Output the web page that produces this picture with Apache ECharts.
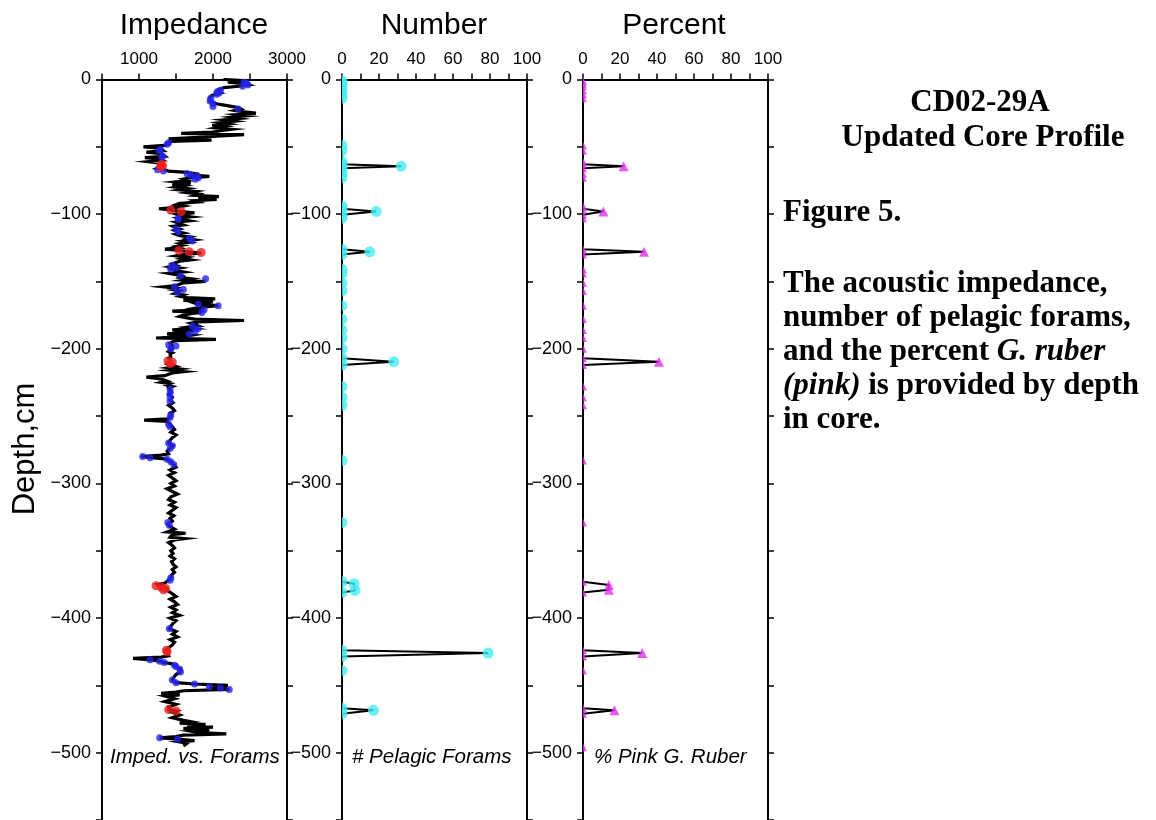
<!DOCTYPE html>
<html>
<head>
<meta charset="utf-8">
<script src="https://cdn.jsdelivr.net/npm/echarts@6/dist/echarts.min.js"></script>
<style>
html,body{margin:0;padding:0;background:#fff;}
#chart{width:1156px;height:820px;}
</style>
</head>
<body>
<div id="chart"></div>
<script>
// ---------- DATA ----------
const impDepth = [0,-1,-2,-3,-4,-5,-6,-7,-8,-9,-10,-11,-12,-13,-14,-15,-16,-17,-18,-19,-20,-21,-22,-23,-24,-25,-26,-27,-28,-29,-30,-31,-32,-33,-34,-35,-36,-37,-38,-39,-40,-41,-42,-43,-44,-45,-46,
-47,-48,-49,-50,-51,-52,-53,-54,-55,-56,-57,-58,-59,-60,-61,-62,-63,-64,-65,-66,-67,-68,-69,-70,
-71,-72,-73,-74,-75,-76,-77,-78,-79,-80,-81,-82,-83,-84,-85,-86,-87,-88,-89,-90,-91,-92,-93,-94,-95,-96,
-97,-98,-99,-100,-101,-102,-103,-104,-105,-106,-107,-108,-109,-110,-111,-112,-113,-114,-115,-116,-117,-118,-119,-120,-121,-122,-123,-124,-125,-126,-127,-128,-129,-130,
-131,-132,-133,-134,-135,-136,-137,-138,-139,-140,-141,-142,-143,-144,-145,-146,-147,-148,-149,-150,-151,-152,-153,-154,-155,-156,-157,-158,-159,-160,
-161,-162,-163,-164,-165,-166,-167,-168,-169,-170,-171,-172,-173,-174,-175,-176,-177,-178,-179,-180,-181,-182,-183,-184,-185,-186,-187,-188,-189,-190,
-191,-192,-193,-194,-195,-196,-197,-198,-199,-200,-201,-202,-203,-204,-205,-206,-207,-208,-209,-210,-211,-212,-213,-214,-215,-216,-217,-218,-219,-220,
-221,-222,-223,-224,-225,-226,-227,-228,-229,
-230,-232,-234,-236,-238,-240,-242,-244,-246,-248,-250,-252,-253,-254,-256,-258,-260,-262,-264,-266,-268,-270,-272,-274,-276,-278,-279,-280,-281,-282,-284,-286,-288,
-290,-292,-294,-296,-298,-300,-302,-304,-306,-308,-310,-312,-314,-316,-318,-320,-322,-324,-326,-328,-330,-332,-334,-336,-337,-338,-340,-341,-342,-344,-346,-348,
-350,-352,-354,-356,-358,-360,-362,-364,-366,-368,-370,-372,-374,-375,-376,-377,-378,-379,-380,-382,-384,-386,-388,-390,-392,-394,-396,-398,-400,
-402,-404,-406,-408,-410,-412,-414,-416,-418,-420,-422,-424,-426,-428,-429,-430,-431,-432,-433,-434,-436,-438,-440,-442,-444,-446,-448,-449,-450,
-451,-452,-453,-454,-455,-456,-457,-458,-460,-462,-464,-466,-468,-469,-470,-472,-474,-476,-477,-478,-479,-480,-481,-482,-483,-484,-485,-486,-487,-488,-489,-490,-491,-492,-493,-495];
const impValue = [2140,2470,2200,2420,2480,2350,2150,2100,2080,2050,2100,2030,1980,1960,1950,1970,1960,2000,2050,2150,2250,2350,2380,2300,2420,2580,2330,2450,2250,2350,2150,2280,2100,2200,1990,2150,2050,2250,2100,2000,1570,2420,2050,1800,1400,1980,1420,
1400,1380,1350,1060,1280,1300,1330,1100,1300,1320,1350,1080,1250,1300,1120,1260,1300,1280,1300,1250,1350,1400,1650,1760,
1720,1950,1700,1600,1650,1500,1700,1450,1600,1500,1650,1550,1750,1650,1800,1750,2080,1800,2050,1750,1800,1550,1500,1600,1500,1270,
1450,1550,1750,1500,1550,1700,1530,1580,1680,1500,1480,1600,1460,1500,1550,1480,1520,1600,1500,1550,1700,1650,1750,1600,1680,1550,1600,1500,1550,1350,1550,1680,1840,1600,
1500,1650,1580,1700,1550,1500,1450,1500,1420,1550,1450,1500,1600,1400,1500,1580,1550,1700,1600,1900,1600,1550,1500,1330,1500,1450,1550,1520,1480,1600,
1550,1650,2030,1600,2000,1750,1800,2070,1850,1750,1880,1450,1850,1700,1600,1550,1650,1750,2420,1800,1700,1750,1800,1650,1750,1450,1700,1650,1380,1700,
1600,1230,2040,1500,1450,1420,1400,1450,1420,1450,1430,1400,1450,1420,1400,1430,1400,1380,1420,1400,1380,1450,1500,1400,1550,1420,1610,1450,1400,1350,
1100,1250,1330,1380,1300,1420,1380,1450,1400,
1420,1440,1400,1450,1420,1460,1400,1450,1480,1420,1440,1400,1070,1380,1420,1450,1480,1430,1500,1450,1420,1400,1460,1420,1380,1400,1300,1030,1200,1380,1430,1470,1500,
1420,1480,1400,1450,1500,1430,1480,1380,1450,1520,1430,1400,1480,1420,1500,1450,1400,1470,1420,1450,1390,1420,1480,1380,1630,1450,1420,1620,1480,1400,1450,1480,
1430,1460,1420,1480,1440,1460,1500,1450,1480,1440,1430,1400,1350,1250,1230,1300,1360,1330,1400,1450,1500,1420,1480,1520,1430,1500,1450,1550,1420,
1500,1460,1430,1410,1500,1450,1520,1420,1480,1450,1400,1370,1380,1400,1300,920,1150,1280,1340,1450,1500,1560,1560,1500,1470,1450,1500,1750,2200,
1950,2100,2220,1600,1500,1300,1550,1350,1480,1350,1500,1400,1400,1500,1450,1550,1450,1600,1700,1550,1900,1650,2000,1600,1950,1700,1800,2180,1600,1500,1280,1520,1750,1550,1650,1600];

// Blue sample dots on impedance curve (no forams)
const blueDepth = [-2,-3,-4,-5,-8,-9,-10,-11,-14,-16,-18,-20,-22,-47,-48,-52,-53,-57,-58,-67,-68,-70,-71,-72,-73,-74,-103,-104,-111,-113,-118,-120,-138,-140,-141,-146,-148,-154,-156,-158,-167,-168,-171,-173,-183,-185,-187,-189,-197,-198,-200,-230,-233,-236,-239,-249,-251,-256,-258,-270,-272,-274,-280,-281,-282,-284,-286,-329,-331,-370,-372,-408,-431,-432,-433,-435,-436,-438,-440,-446,-448,-449,-451,-452,-453,-489,-490];
const blueValue = [2420,2460,2470,2400,2100,2060,2080,2050,1970,1960,2000,2000,2340,1400,1380,1290,1270,1320,1310,1250,1330,1650,1700,1780,1800,1760,1530,1530,1500,1530,1680,1720,1450,1500,1430,1560,1900,1480,1600,1520,1800,2070,1880,1850,1720,1800,1760,1680,1400,1500,1430,1420,1420,1420,1420,1430,1420,1400,1420,1400,1450,1420,1050,1150,1380,1430,1470,1390,1410,1430,1420,1410,1150,1280,1340,1480,1500,1550,1560,1450,1500,1750,1950,2100,2220,1280,1520];

// Red dots (samples with forams)
const redDepth = [-63,-64,-65,-97,-98,-127,-128,-128.5,-209,-210,-211,-376,-377,-378,-379,-424,-425,-468,-469];
const redValue = [1300,1320,1290,1430,1570,1540,1680,1840,1390,1450,1420,1230,1300,1360,1330,1370,1380,1400,1500];

// Number of pelagic forams
const numDepth = [-1,-3,-5,-8,-11,-14,-49,-53,-61,-63,-64.5,-66,-70,-73,-94,-96,-98,-100.5,-103,-126,-128,-130,-141,-144,-151,-157,-168,-178,-186,-192,-200,-207,-209.7,-212,-228,-236,-242,-283,-329,-373,-374.5,-379.5,-381,-424,-426,-428.5,-439,-467,-468.5,-471];
const numValue = [0,0,0,0,0,0,0,0,0,0,32,0,0,0,0,0,18.5,0,0,0,15,0,0,0,0,0,0,0,0,0,0,0,28,0,0,0,0,0,0,0,6.5,7,0,0,79,0,0,0,17,0];

// Percent pink G. ruber
const pctDepth = [-1,-3,-5,-8,-11,-14,-49,-53,-61,-63,-64.5,-66,-70,-73,-94,-96,-98,-100.5,-103,-126,-128,-130,-141,-144,-151,-157,-168,-178,-186,-192,-200,-207,-209.7,-212,-228,-236,-242,-283,-329,-373,-375.5,-379,-381,-424,-426,-428.5,-439,-467,-468.5,-471,-496];
const pctValue = [0,0,0,0,0,0,0,0,0,0,22,0,0,0,0,0,11,0,0,0,33,0,0,0,0,0,0,0,0,0,0,0,41,0,0,0,0,0,0,0,14,14,0,0,32,0,0,0,17,0,0];

const impTicks = [1000, 2000, 3000];
const pctTicks = [0, 20, 40, 60, 80, 100];

// ---------- CHART ----------
const chart = echarts.init(document.getElementById('chart'), null, {renderer: 'canvas'});
const FONT = 'Liberation Sans, Arial, Helvetica, sans-serif';
const SERIF = 'Liberation Serif, Times New Roman, serif';
const lefts = [102, 342, 583];
const W = 185;

const grids = lefts.map(l => ({left: l, width: W, top: 79.5, bottom: 0, containLabel: false}));

function yAxisPair(gi) {
  const common = {
    type: 'value', gridIndex: gi, min: -550, max: 0, interval: 50,
    splitLine: {show: false},
    axisLine: {show: true, onZero: false, lineStyle: {color: '#000', width: 2}},
    axisTick: {show: true, inside: false, length: 6, lineStyle: {color: '#000', width: 1.5}}
  };
  return [
    Object.assign({}, common, {position: 'left',
      axisLabel: {show: true, color: '#000', fontSize: 18, fontFamily: FONT, margin: 11,
        formatter: v => (v % 100 === 0 ? String(v).replace('-', '\u2212') : '')}}),
    Object.assign({}, common, {position: 'right', axisLabel: {show: false}})
  ];
}

function xAxis(gi, min, max, interval, labelStep) {
  return {
    type: 'value', gridIndex: gi, position: 'top', min: min, max: max, interval: interval,
    splitLine: {show: false},
    axisLine: {show: true, onZero: false, lineStyle: {color: '#000', width: 2}},
    axisTick: {show: true, inside: false, length: 6, lineStyle: {color: '#000', width: 1.5}},
    axisLabel: {show: true, color: '#000', fontSize: 17, fontFamily: FONT, margin: 12,
      formatter: v => (labelStep.indexOf(v) >= 0 ? String(v) : '')}
  };
}

const yAxes = [].concat(yAxisPair(0), yAxisPair(1), yAxisPair(2));
const xAxes = [xAxis(0, 500, 3000, 500, impTicks), xAxis(1, 0, 100, 10, pctTicks), xAxis(2, 0, 100, 10, pctTicks)];

const impLine = impDepth.map((d, i) => [impValue[i], d]);
const blueDots = blueDepth.map((d, i) => [blueValue[i], d]);
const redDots = redDepth.map((d, i) => [redValue[i], d]);
const numLine = numDepth.map((d, i) => [numValue[i], d]);
const pctLine = pctDepth.map((d, i) => [pctValue[i], d]);

const halfCircle = 'path://M0 0A10 10 0 0 1 0 20Z';
const halfTri = 'path://M0 0L10 20L0 20Z';

const CYAN = '#45ECF2';
const MAGENTA = '#E22EF2';

function txt(x, y, text, font, align, extra) {
  const el = {type: 'text', x: x, y: y, style: {text: text, font: font, fill: '#000',
    align: align, verticalAlign: 'middle', textAlign: align, textVerticalAlign: 'middle'}};
  return Object.assign(el, extra || {});
}
const SF = 'bold 31px ' + SERIF;
const richStyle = {
  n: {fontFamily: SERIF, fontWeight: 'bold', fontSize: 31, fill: '#000', color: '#000'},
  i: {fontFamily: SERIF, fontWeight: 'bold', fontStyle: 'italic', fontSize: 31, fill: '#000', color: '#000'}
};

const option = {
  animation: false,
  backgroundColor: '#fff',
  grid: grids,
  xAxis: xAxes,
  yAxis: yAxes,
  series: [
    {type: 'line', xAxisIndex: 0, yAxisIndex: 0, data: impLine, showSymbol: false, symbol: 'none',
      lineStyle: {color: '#000', width: 3.2, join: 'miter'}, z: 2, clip: true},
    {type: 'scatter', xAxisIndex: 0, yAxisIndex: 0, data: blueDots, symbol: 'circle', symbolSize: 7,
      itemStyle: {color: '#2424EE'}, z: 3},
    {type: 'scatter', xAxisIndex: 0, yAxisIndex: 0, data: redDots, symbol: 'circle', symbolSize: 9,
      itemStyle: {color: '#EE2020'}, z: 4},
    // Number panel
    {type: 'line', xAxisIndex: 1, yAxisIndex: 2, data: numLine, showSymbol: false, symbol: 'none',
      lineStyle: {color: '#000', width: 2}, z: 2},
    {type: 'scatter', xAxisIndex: 1, yAxisIndex: 2, data: numLine.filter(p => p[0] > 0), symbol: 'circle', symbolSize: 11,
      itemStyle: {color: CYAN}, z: 3},
    {type: 'scatter', xAxisIndex: 1, yAxisIndex: 2, data: numLine.filter(p => p[0] === 0), symbol: halfCircle,
      symbolSize: [5.5, 11], symbolOffset: [2.75, 0], itemStyle: {color: CYAN}, z: 3},
    // Percent panel
    {type: 'line', xAxisIndex: 2, yAxisIndex: 4, data: pctLine, showSymbol: false, symbol: 'none',
      lineStyle: {color: '#000', width: 2}, z: 2},
    {type: 'scatter', xAxisIndex: 2, yAxisIndex: 4, data: pctLine.filter(p => p[0] > 0), symbol: 'triangle', symbolSize: 10,
      itemStyle: {color: MAGENTA}, z: 3},
    {type: 'scatter', xAxisIndex: 2, yAxisIndex: 4, data: pctLine.filter(p => p[0] === 0), symbol: halfTri,
      symbolSize: [4, 8], symbolOffset: [2, 0], itemStyle: {color: MAGENTA}, z: 3}
  ],
  graphic: [
    txt(194, 26, 'Impedance', '30px ' + FONT, 'center'),
    txt(434, 26, 'Number', '30px ' + FONT, 'center'),
    txt(674, 26, 'Percent', '30px ' + FONT, 'center'),
    txt(25, 449, 'Depth,cm', '31px ' + FONT, 'center', {rotation: Math.PI / 2}),
    txt(110, 757, 'Imped. vs. Forams', 'italic 20.5px ' + FONT, 'left'),
    txt(352, 757, '# Pelagic Forams', 'italic 20.5px ' + FONT, 'left'),
    txt(594, 757, '% Pink G. Ruber', 'italic 20.5px ' + FONT, 'left'),
    txt(980, 103, 'CD02-29A', SF, 'center'),
    txt(983, 138, 'Updated Core Profile', SF, 'center'),
    txt(783, 213, 'Figure 5.', SF, 'left'),
    txt(783, 284, 'The acoustic impedance,', SF, 'left'),
    txt(783, 318, 'number of pelagic forams,', SF, 'left'),
    {type: 'text', x: 783, y: 352, style: {text: '{n|and the percent }{i|G. ruber}', fill: '#000', align: 'left', verticalAlign: 'middle', textAlign: 'left', textVerticalAlign: 'middle', rich: richStyle}},
    {type: 'text', x: 783, y: 386, style: {text: '{i|(pink)}{n| is provided by depth}', fill: '#000', align: 'left', verticalAlign: 'middle', textAlign: 'left', textVerticalAlign: 'middle', rich: richStyle}},
    txt(783, 420, 'in core.', SF, 'left')
  ]
};
chart.setOption(option);
</script>
</body>
</html>
